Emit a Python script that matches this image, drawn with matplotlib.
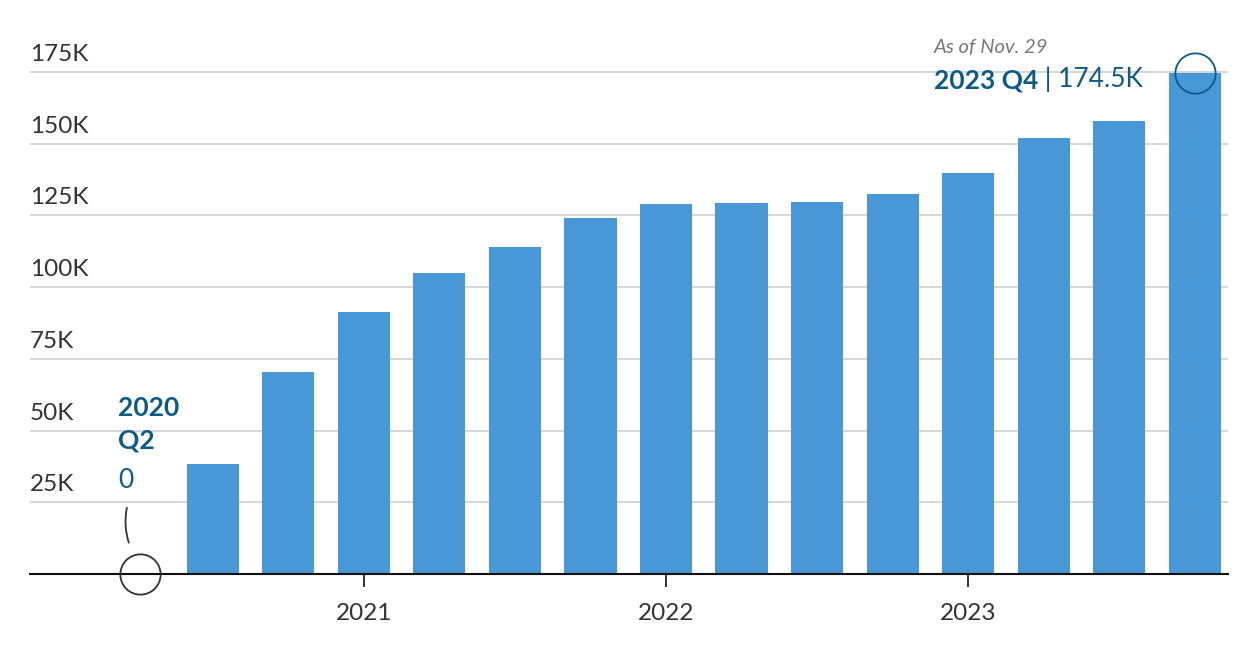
import matplotlib
matplotlib.use("Agg")
import matplotlib.pyplot as plt
from matplotlib.transforms import offset_copy

# quarterly values, thousands
quarters = ["2020 Q2", "2020 Q3", "2020 Q4",
            "2021 Q1", "2021 Q2", "2021 Q3", "2021 Q4",
            "2022 Q1", "2022 Q2", "2022 Q3", "2022 Q4",
            "2023 Q1", "2023 Q2", "2023 Q3", "2023 Q4"]
values = [0, 38.3, 70.4, 91.3, 104.9, 114.0, 124.1,
          129.0, 129.3, 129.7, 132.4, 139.8, 152.0, 157.9, 174.5]
year_ticks = [3, 7, 11]
year_labels = ["2021", "2022", "2023"]
y_ticks = [25, 50, 75, 100, 125, 150, 175]
y_labels = ["25K", "50K", "75K", "100K", "125K", "150K", "175K"]

BAR = "#4897d6"
DARK = "#0b5b87"
plt.rcParams['font.family'] = ['Lato', 'DejaVu Sans']

fig = plt.figure(figsize=(12.6, 6.6), dpi=100)
ax = fig.add_axes([30 / 1260, 86 / 660, 1198 / 1260, 544 / 660])

x = list(range(len(values)))
ax.bar(x, values, width=0.69, color=BAR, zorder=2)

ax.set_xlim(-1.42, 14.44)
ax.set_ylim(0, 189.6)

for s in ["top", "right", "left"]:
    ax.spines[s].set_visible(False)
ax.spines["bottom"].set_color("#111111")
ax.spines["bottom"].set_linewidth(1.5)
ax.spines["bottom"].set_zorder(3)

ax.set_yticks(y_ticks)
ax.set_yticklabels([])
ax.tick_params(axis="y", length=0)
ax.yaxis.grid(True, color="#cfcfcf", linewidth=1.2, zorder=0)

ax.set_xticks(year_ticks)
ax.set_xticklabels(year_labels, fontsize=17.5, color="#333333")
ax.tick_params(axis="x", length=9, width=1.2, color="#111111", pad=12)

# y labels sit above each gridline
lab_tr = offset_copy(ax.get_yaxis_transform(), fig=fig, x=0, y=7, units="dots")
for yv, lab in zip(y_ticks, y_labels):
    ax.text(0, yv, lab, transform=lab_tr, ha="left", va="bottom",
            fontsize=17.5, color="#333333")

# first point annotation
ax.plot(0.03, 0, marker="o", markersize=29, markerfacecolor="none",
        markeredgecolor="#333333", markeredgewidth=1.3, clip_on=False, zorder=4)
ax.annotate("2020\nQ2", xy=(0, 0), xytext=(-19, 178), textcoords="offset pixels",
            ha="left", va="top", fontsize=19, fontweight="bold", color=DARK,
            linespacing=1.4)
ax.annotate("0", xy=(0, 0), xytext=(-19, 106), textcoords="offset pixels",
            ha="left", va="top", fontsize=19, color=DARK)
ax.annotate("", xy=(-0.1, 10), xytext=(-0.13, 24),
            arrowprops=dict(arrowstyle="-", color="#333333", lw=1.3,
                            connectionstyle="arc3,rad=0.15"))

# last point annotation
last = len(values) - 1
ax.plot(last, values[last], marker="o", markersize=29, markerfacecolor="none",
        markeredgecolor=DARK, markeredgewidth=1.3, clip_on=False, zorder=4)
t1 = ax.annotate("2023 Q4", xy=(last, values[last]), xytext=(-261, -15),
                 textcoords="offset pixels", ha="left", va="baseline",
                 fontsize=19, fontweight="bold", color=DARK)
ax.annotate(" | 174.5K", xy=(1, 0), xycoords=t1, ha="left", va="bottom",
            fontsize=19, color=DARK)
ax.annotate("As of Nov. 29", xy=(last, values[last]), xytext=(-261, 20),
            textcoords="offset pixels", ha="left", va="baseline",
            fontsize=14.5, fontstyle="italic", color="#777777")

fig.savefig("out.png", dpi=100)
